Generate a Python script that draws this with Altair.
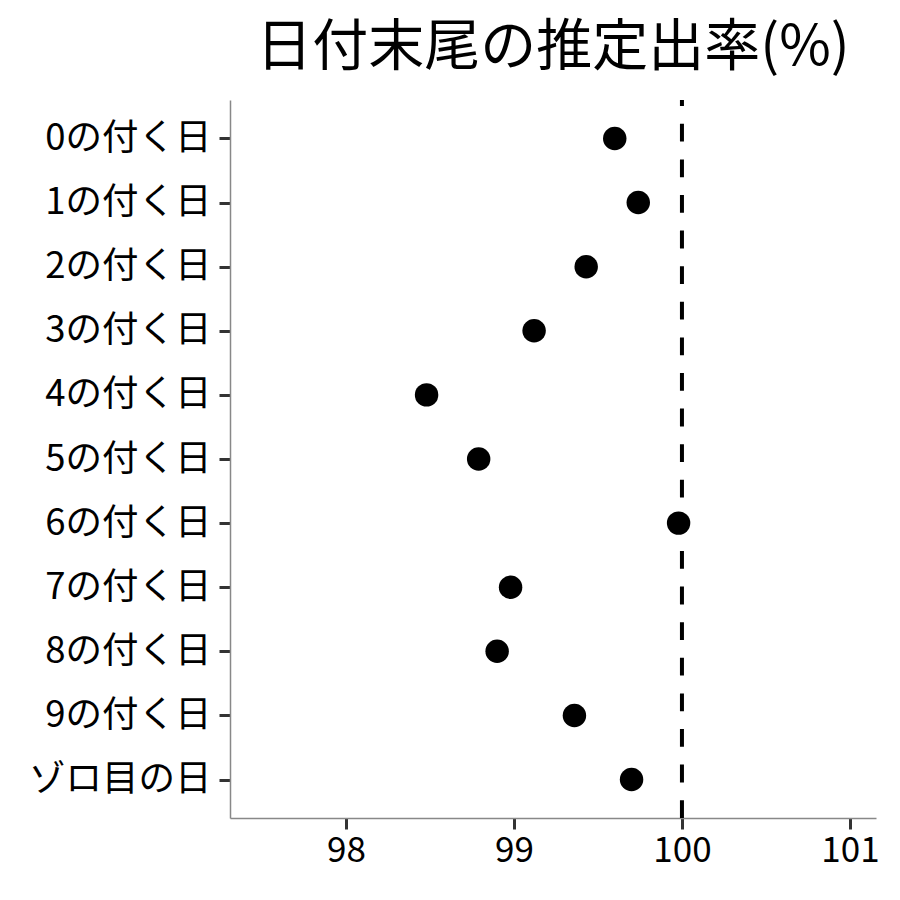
import altair as alt
import pandas as pd

labels = ["0の付く日", "1の付く日", "2の付く日", "3の付く日", "4の付く日",
          "5の付く日", "6の付く日", "7の付く日", "8の付く日", "9の付く日", "ゾロ目の日"]
values = [99.60, 99.74, 99.43, 99.12, 98.48, 98.79, 99.98, 98.98, 98.90, 99.36, 99.70]
ref_value = 100
x_ticks = [98, 99, 100, 101]

df = pd.DataFrame({"label": labels, "value": values})
FONT = "Noto Sans CJK JP"
W, H = 646, 718

x_scale = alt.Scale(domain=[97.31, 101.155], nice=False, zero=False)

points = alt.Chart(df).mark_circle(size=550, color="black", opacity=1).encode(
    x=alt.X("value:Q", scale=x_scale, title=None,
            axis=alt.Axis(values=x_ticks, format="d", grid=False,
                          domainColor="#888888", domainWidth=1.5,
                          tickColor="#333333", tickWidth=3, tickSize=11,
                          labelFontSize=35, labelColor="black", labelFont=FONT,
                          labelPadding=4)),
    y=alt.Y("label:N", sort=labels, title=None,
            scale=alt.Scale(type="point", padding=0.6),
            axis=alt.Axis(grid=False, domainColor="#888888", domainWidth=1.5,
                          tickColor="#333333", tickWidth=3, tickSize=11,
                          labelFontSize=36.5, labelColor="black", labelFont=FONT,
                          labelPadding=8, labelLimit=400)),
)

rule = alt.Chart(pd.DataFrame({"v": [ref_value]})).mark_rule(
    color="black", strokeWidth=4, strokeDash=[17.8, 17.8], strokeDashOffset=0
).encode(
    x=alt.X("v:Q", scale=x_scale),
    y=alt.value(H), y2=alt.value(0),
)

chart = alt.layer(rule, points).properties(
    width=W, height=H,
    background="white",
    autosize=alt.AutoSizeParams(type="none"),
    padding={"left": 222, "top": 92, "right": 16, "bottom": 70},
    title=alt.TitleParams("日付末尾の推定出率(%)", fontSize=56, font=FONT,
                          fontWeight="normal", color="black", anchor="middle",
                          offset=21),
).configure_view(strokeWidth=0, stroke=None)

chart.save("out.html", embed_options={"renderer": "svg", "actions": False})
